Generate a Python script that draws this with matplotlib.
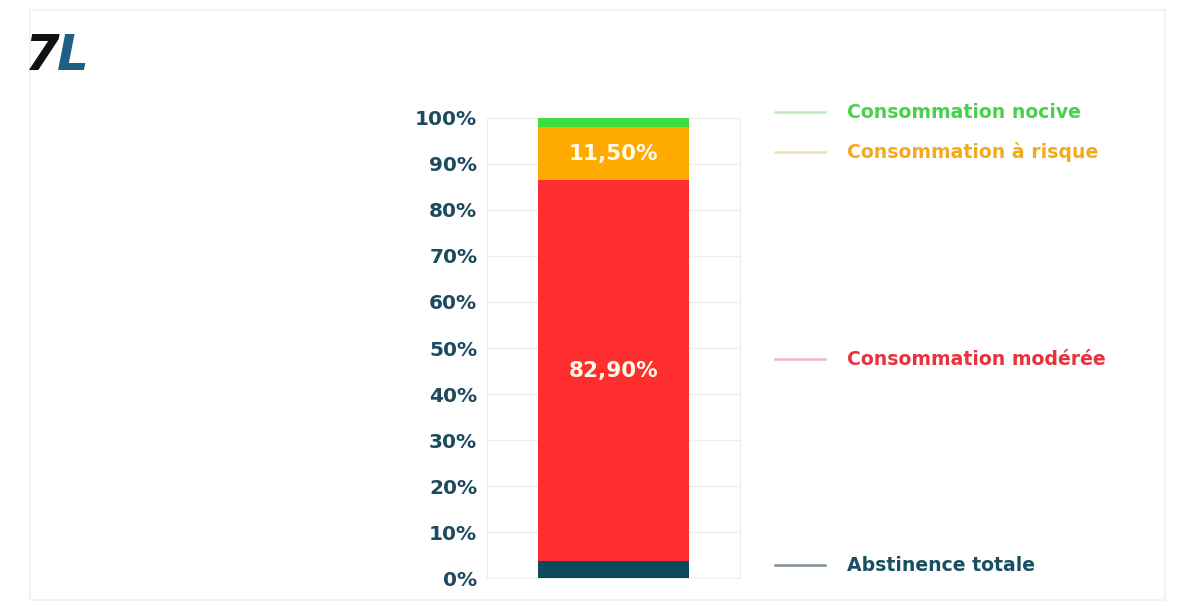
import matplotlib.pyplot as plt
import matplotlib.patches as mpatches
import matplotlib.transforms as mtransforms
import numpy as np

# données (%), du bas vers le haut
categories = ["Abstinence totale", "Consommation modérée", "Consommation à risque", "Consommation nocive"]
valeurs = [3.6, 82.9, 11.5, 2.0]
etiquettes = ["", "82,90%", "11,50%", ""]
couleurs = ["#0d4a5e", "#ff2e2e", "#ffaa00", "#3fdc3f"]
couleurs_texte = ["#1a4f63", "#e8323c", "#f5aa1e", "#46d24a"]
couleurs_trait = ["#7d9099", "#ecb6c4", "#efe2b0", "#bfe8bf"]
ticks = np.arange(0, 101, 10)
tick_labels = [f"{t}%" for t in ticks]

fig = plt.figure(figsize=(11.87, 6.06), dpi=100)
fig.patch.set_facecolor("white")

# cadre léger autour
fig.patches.append(mpatches.Rectangle((30 / 1187, 6 / 606), 1135 / 1187, 590 / 606,
                                      transform=fig.transFigure, fill=False,
                                      edgecolor="#f0f0f0", lw=1.2))

# logo
fig.text(24 / 1187, 1 - 70 / 606, "7", fontsize=36, fontweight="heavy", style="italic",
         color="#111111")
fig.text(57 / 1187, 1 - 70 / 606, "L", fontsize=36, fontweight="heavy", style="italic",
         color="#1f5f85")

ax = fig.add_axes([487 / 1187, 28 / 606, 253 / 1187, 460 / 606])
bas = 0
for v, c, lab in zip(valeurs, couleurs, etiquettes):
    ax.bar(0, v, bottom=bas, width=0.6, color=c, zorder=3)
    if lab:
        ax.text(0, bas + v / 2, lab, ha="center", va="center", color="#fffbea",
                fontsize=15.5, fontweight="bold", zorder=4)
    bas += v

ax.set_xlim(-0.5, 0.5)
ax.set_ylim(0, 100)
ax.set_yticks(ticks)
ax.set_yticklabels(tick_labels, fontsize=14.5, fontweight="bold", color="#1d4a5f")
ax.set_xticks([])
ax.tick_params(axis="y", length=0, pad=7)
ax.grid(axis="y", color="#eeeeee", lw=1, zorder=0)
for s in ["left", "right", "top", "bottom"]:
    ax.spines[s].set_color("#eeeeee")

# légende à droite, alignée sur les segments
legende_y = [2.8, 47.6, 92.5, 101.3]
trans = mtransforms.blended_transform_factory(fig.transFigure, ax.transData)
for cat, y, ct, cl in zip(categories, legende_y, couleurs_texte, couleurs_trait):
    ax.plot([775 / 1187, 825 / 1187], [y, y], transform=trans,
            color=cl, lw=1.8, clip_on=False)
    ax.text(847 / 1187, y, cat, transform=trans,
            ha="left", va="center", fontsize=13.6, fontweight="bold", color=ct, clip_on=False)

fig.savefig("out.png", dpi=100)
